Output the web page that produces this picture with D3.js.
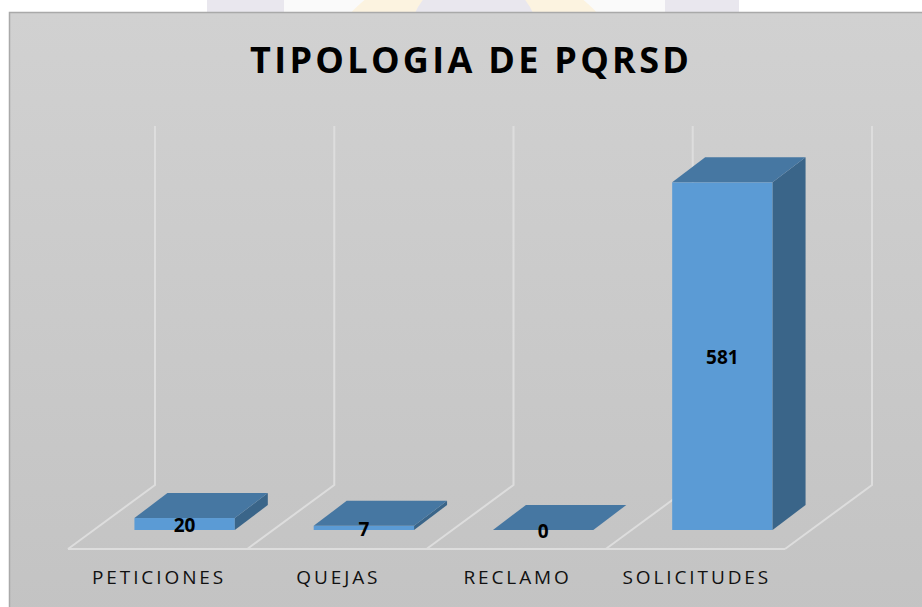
<!DOCTYPE html>
<html>
<head>
<meta charset="utf-8">
<script src="https://cdn.jsdelivr.net/npm/d3@7"></script>
<style>
  html, body { margin: 0; padding: 0; background: #ffffff; }
  svg { display: block; }
</style>
</head>
<body>
<svg id="mainsvg" width="922" height="607"></svg>
<script>
const categories = ['PETICIONES', 'QUEJAS', 'RECLAMO', 'SOLICITUDES'];
const values = [20, 7, 0, 581];
const valueDomain = [0, 600]; // value axis is hidden, only used for scaling
const chartTitle = 'TIPOLOGIA DE PQRSD';

const svg = d3.select('#mainsvg');
const width = +svg.attr('width');
const height = +svg.attr('height');

// oblique 3D geometry: floor, wall and where the bars stand
const floor = { left: 68, right: 785, front: 549 };
const depth = { dx: 87, dy: -64 };
const barOff = { dx: 27, dy: -19 };
const barDepth = { dx: 33, dy: -25 };
const wallHeight = 359;

const xScale = d3.scaleBand()
    .domain(categories)
    .range([floor.left, floor.right])
    .paddingInner(0.44)
    .paddingOuter(0.22);

const yScale = d3.scaleLinear()
    .domain(valueDomain)
    .range([0, wallHeight]);

const defs = svg.append('defs');
const bg = defs.append('linearGradient').attr('id', 'bgGrad')
    .attr('x1', 0).attr('y1', 0).attr('x2', 0).attr('y2', 1);
bg.append('stop').attr('offset', '0%').attr('stop-color', '#d1d1d1');
bg.append('stop').attr('offset', '100%').attr('stop-color', '#c3c3c3');

// faint logo peeking above the chart box
const wm = svg.append('g').attr('id', 'watermark');
wm.append('rect').attr('x', 207).attr('y', 0).attr('width', 77).attr('height', 12).attr('fill', '#e9e7ee');
wm.append('rect').attr('x', 284).attr('y', 0).attr('width', 381).attr('height', 12).attr('fill', '#fafafa');
wm.append('circle').attr('cx', 474).attr('cy', 130).attr('r', 170).attr('fill', '#fcf3e0');
wm.append('circle').attr('cx', 474).attr('cy', 40).attr('r', 65).attr('fill', '#e9e7ee');
wm.append('rect').attr('x', 665).attr('y', 0).attr('width', 74).attr('height', 12).attr('fill', '#e9e7ee');

// chart box
svg.append('rect')
    .attr('x', 9.5).attr('y', 12.5)
    .attr('width', width).attr('height', height)
    .attr('fill', 'url(#bgGrad)')
    .attr('stroke', '#a9a9a9')
    .attr('stroke-width', 1.5);

const g = svg.append('g').attr('id', 'maingroup');

// gridlines: diagonal on the floor, vertical on the back wall
const step = xScale.step();
const bounds = d3.range(categories.length + 1).map(i => floor.left + i * step);
g.selectAll('.grid').data(bounds).join('path')
    .attr('class', 'grid')
    .attr('fill', 'none')
    .attr('stroke', '#dddddd')
    .attr('stroke-width', 2)
    .attr('d', x => {
        const bx = x + depth.dx, by = floor.front + depth.dy;
        return `M${x},${floor.front}L${bx},${by}L${bx},${by - wallHeight}`;
    });
g.append('line')
    .attr('x1', floor.left).attr('x2', floor.right)
    .attr('y1', floor.front).attr('y2', floor.front)
    .attr('stroke', '#dddddd')
    .attr('stroke-width', 2);

// bars
const base = floor.front + barOff.dy;
const w = xScale.bandwidth();
const bars = g.selectAll('.bar').data(categories.map((c, i) => ({ c, v: values[i] })))
    .join('g').attr('class', 'bar');

bars.each(function(d) {
    const b = d3.select(this);
    const x0 = xScale(d.c) + barOff.dx;
    const h = yScale(d.v);
    const top = base - h;
    const ddx = barDepth.dx, ddy = barDepth.dy;
    if (h > 0) {
        b.append('rect')
            .attr('x', x0).attr('y', top)
            .attr('width', w).attr('height', h)
            .attr('fill', '#5b9bd5');
        b.append('path')
            .attr('fill', '#3a6589')
            .attr('d', `M${x0 + w},${top}L${x0 + w + ddx},${top + ddy}L${x0 + w + ddx},${base + ddy}L${x0 + w},${base}Z`);
    }
    b.append('path')
        .attr('fill', '#4677a2')
        .attr('d', `M${x0},${top}L${x0 + ddx},${top + ddy}L${x0 + w + ddx},${top + ddy}L${x0 + w},${top}Z`);
    b.append('text')
        .attr('x', x0 + w / 2)
        .attr('y', top + h / 2 + 1.5)
        .attr('dy', '0.35em')
        .attr('text-anchor', 'middle')
        .attr('font-family', '"Open Sans", sans-serif')
        .attr('font-weight', 'bold')
        .attr('font-size', '19px')
        .attr('fill', '#000000')
        .text(d.v);
});

// category labels
const catSpacing = 2.9;
g.selectAll('.cat').data(categories).join('text')
    .attr('class', 'cat')
    .attr('x', c => xScale(c) + w / 2 + catSpacing / 2)
    .attr('y', 584)
    .attr('text-anchor', 'middle')
    .attr('font-family', '"Open Sans", sans-serif')
    .attr('font-size', '19px')
    .attr('letter-spacing', catSpacing)
    .attr('fill', '#111111')
    .text(c => c);

// title
const titleSpacing = 3.3;
svg.append('text')
    .attr('x', 469.5 + titleSpacing / 2)
    .attr('y', 73)
    .attr('text-anchor', 'middle')
    .attr('font-family', '"Open Sans", sans-serif')
    .attr('font-weight', 'bold')
    .attr('font-size', '36px')
    .attr('letter-spacing', titleSpacing)
    .attr('fill', '#000000')
    .text(chartTitle);
</script>
</body>
</html>
